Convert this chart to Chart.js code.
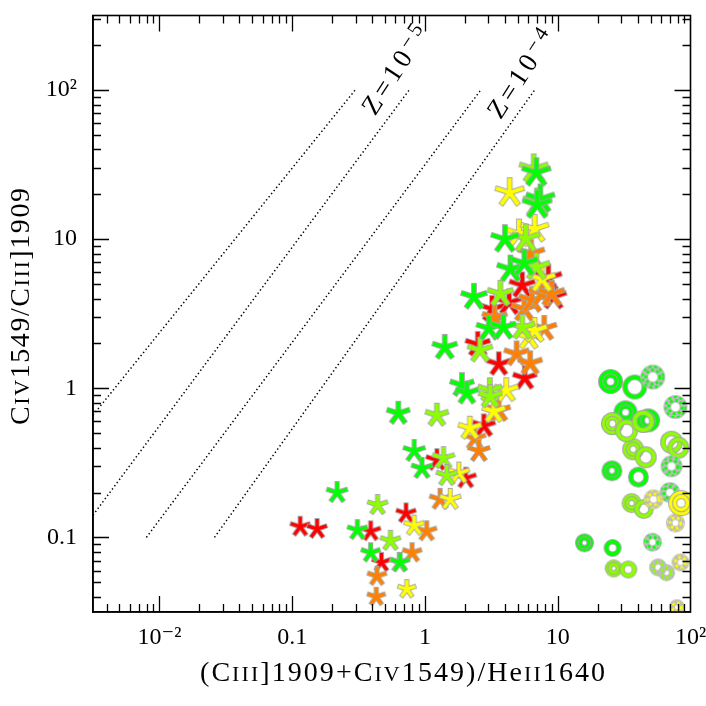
<!DOCTYPE html>
<html><head><meta charset="utf-8">
<script src="https://cdn.jsdelivr.net/npm/chart.js@4.4.1/dist/chart.umd.min.js"></script>
<style>html,body{margin:0;padding:0;background:#fff}canvas{display:block}</style>
</head><body>
<canvas id="c" width="706" height="706"></canvas>
<script>
// ---------------- data ----------------
const xTickValues = [0.01, 0.1, 1, 10, 100];
const xTickLabels = ['10\u207B\u00B2', '0.1', '1', '10', '10\u00B2'];
const yTickValues = [0.1, 1, 10, 100];
const yTickLabels = ['0.1', '1', '10', '10\u00B2'];

const starsRed = [[0.115,0.118],[0.154,0.114],[0.39,0.110],[0.47,0.068],[0.72,0.145],[1.23,0.33],[2.03,0.25],[2.78,0.56],[2.5,1.97],[3.6,1.45],[5.65,1.17],[3.2,3.4],[4.3,3.76],[5.4,4.9],[8.5,5.5],[9.3,4.1]];
const starsOrange = [[0.43,0.040],[0.435,0.055],[0.8,0.079],[1.03,0.11],[1.3,0.18],[2.37,0.46],[2.55,0.38],[3.6,0.71],[4.9,1.7],[6.2,1.47],[7.9,2.52],[3.35,2.98],[5.6,3.4],[6.4,3.9],[7.6,4.3],[9.0,4.3],[6.3,8.0]];
const starsYellow = [[0.73,0.045],[0.83,0.12],[1.55,0.18],[1.8,0.27],[2.18,0.54],[3.3,0.70],[4.1,0.97],[6.05,2.2],[6.7,2.44],[7.6,5.4],[5.1,10.9],[6.7,11.7],[4.35,20.5]];
const starsYellowGreen = [[0.44,0.165],[0.55,0.095],[0.64,0.068],[1.23,0.66],[1.38,0.34],[1.46,0.26],[2.6,1.8],[3.08,0.97],[3.1,0.88],[5.4,2.56],[3.7,4.3],[6.9,6.5],[5.75,10.1],[6.6,29.6],[7.0,17.5]];
const starsGreen = [[0.218,0.20],[0.31,0.112],[0.39,0.079],[0.65,0.068],[0.83,0.38],[0.95,0.29],[0.63,0.68],[1.9,1.05],[2.07,0.93],[1.41,1.88],[2.34,4.1],[3.03,2.52],[3.9,2.56],[4.4,6.3],[5.6,6.9],[4.0,10.0],[6.9,27.9],[7.4,18.6],[7.0,17.0]];

const ringsGreenDouble = [[25,1.11],[32.4,0.69],[48,0.61],[25.6,0.28],[15.9,0.092]];
const ringsGreenSingle = [[38,1.02],[40.5,0.254],[25.9,0.085]];
const ringsGreenDashed = [[52,1.19],[77,0.75],[72,0.30],[51.7,0.093],[70,0.20]];
const ringsYellowGreenDouble = [[25.8,0.58],[37,0.39],[36,0.17],[26.4,0.062]];
const ringsYellowGreenSingle = [[33,0.52],[46,0.345],[44.5,0.155],[34,0.061],[44,0.60],[72,0.435],[81,0.40]];
const ringsYellowGreenDashed = [[57,0.063],[66,0.058]];
const ringsYellowDashed = [[52.6,0.18],[77,0.125],[84,0.068],[79,0.034]];
const ringsYellowThick = [[85,0.17]];

const zLines = [
  [[0.00316,0.66],[0.298,100]],
  [[0.00316,0.141],[0.76,100]],
  [[0.00798,0.1],[2.63,100]],
  [[0.026,0.1],[6.7,100]]
];
const zLabelText = ['Z=10', 'Z=10'];
const zLabelExp = ['\u22125', '\u22124'];
const zLabelAt = [[0.60,136],[5.3,128]];

// ---------------- styling ----------------
const FAM = "'Liberation Serif', 'DejaVu Serif', serif";
const GRAY = '#a6a6a6';
const C_RED = '#ff0000', C_ORANGE = '#ff8000', C_YELLOW = '#ffff00', C_YG = '#8cff00', C_GREEN = '#00ff00';
const cache = {};
const toPts = a => a.map(([x, y]) => ({x, y}));

function starImg(color, r) {
  const key = 's|' + color + '|' + r;
  if (cache[key]) return cache[key];
  const w = r > 11 ? 3.9 : 3.3;
  const size = Math.ceil(2 * (r + 3));
  const cv = document.createElement('canvas'); cv.width = cv.height = size;
  const g = cv.getContext('2d'); const c = size / 2;
  const spokes = (len, lw, col) => {
    g.beginPath();
    for (let i = 0; i < 5; i++) {
      const a = -Math.PI / 2 + i * 2 * Math.PI / 5;
      g.moveTo(c, c); g.lineTo(c + len * Math.cos(a), c + len * Math.sin(a));
    }
    g.lineWidth = lw; g.strokeStyle = col; g.lineCap = 'butt'; g.stroke();
  };
  spokes(r + 0.9, w + 1.8, GRAY);
  spokes(r, w, color);
  cache[key] = cv; return cv;
}

function ringImg(color, R, kind) {
  const key = 'r|' + color + '|' + R + '|' + kind;
  if (cache[key]) return cache[key];
  const w = kind === 'thick' ? 4.8 : 3.6;
  const size = Math.ceil(2 * (R + 3));
  const cv = document.createElement('canvas'); cv.width = cv.height = size;
  const g = cv.getContext('2d'); const c = size / 2;
  const ring = (r, dashed, lw) => {
    g.setLineDash([]);
    g.beginPath(); g.arc(c, c, r, 0, 2 * Math.PI);
    g.lineWidth = lw + 2; g.strokeStyle = dashed ? '#bdbdbd' : GRAY; g.stroke();
    g.setLineDash(dashed ? [2.6, 2.6] : []);
    g.beginPath(); g.arc(c, c, r, 0, 2 * Math.PI);
    g.lineWidth = lw; g.strokeStyle = color; g.stroke();
  };
  const outer = R - w / 2 - 1;
  if (kind === 'single') ring(outer, false, w);
  else if (kind === 'double') { ring(outer, false, w); ring(Math.max(2.4, R * 0.46), false, 2.8); }
  else if (kind === 'dashed') { ring(outer, true, w); ring(R * 0.56, true, 2.8); }
  else if (kind === 'thick') { ring(outer, false, w); ring(R * 0.5, false, 3.4); }
  cache[key] = cv; return cv;
}

const clamp = (v, a, b) => Math.max(a, Math.min(b, v));
const starR = y => Math.round(clamp(11.8 + 2.0 * Math.log10(y), 8.5, 16) * 2) / 2;
const ringR = y => Math.round(clamp(12.4 + 3 * Math.log10(y), 7.5, 13) * 2) / 2;

function starSet(label, arr, color) {
  return {
    label, data: toPts(arr), clip: 0,
    pointRadius: c => c.raw ? starR(c.raw.y) : 10,
    pointStyle: c => starImg(color, c.raw ? starR(c.raw.y) : 10),
    showLine: false
  };
}
function ringSet(label, arr, color, kind, scale) {
  const s = scale || 1;
  return {
    label, data: toPts(arr), clip: 0,
    pointRadius: c => (c.raw ? ringR(c.raw.y) : 10) * s,
    pointStyle: c => ringImg(color, Math.round((c.raw ? ringR(c.raw.y) : 10) * s * 2) / 2, kind),
    showLine: false
  };
}
function lineSet(seg, i) {
  return {
    label: 'Z line ' + (i + 1), type: 'line', data: toPts(seg), clip: 0,
    borderColor: '#000', borderWidth: 1.5, borderDash: [1.4, 2.6], borderCapStyle: 'butt',
    pointRadius: 0, fill: false, tension: 0, showLine: true
  };
}

// painting order: bottom first
const paintOrder = [
  ...zLines.map(lineSet),
  starSet('red', starsRed, C_RED),
  starSet('orange', starsOrange, C_ORANGE),
  starSet('yellow', starsYellow, C_YELLOW),
  starSet('yellow-green', starsYellowGreen, C_YG),
  starSet('green', starsGreen, C_GREEN),
  ringSet('green double', ringsGreenDouble, C_GREEN, 'double'),
  ringSet('green single', ringsGreenSingle, C_GREEN, 'single'),
  ringSet('yellow-green double', ringsYellowGreenDouble, C_YG, 'double'),
  ringSet('yellow-green single', ringsYellowGreenSingle, C_YG, 'single'),
  ringSet('green dashed', ringsGreenDashed, C_GREEN, 'dashed'),
  ringSet('yellow-green dashed', ringsYellowGreenDashed, C_YG, 'dashed'),
  ringSet('yellow dashed', ringsYellowDashed, C_YELLOW, 'dashed'),
  ringSet('yellow thick', ringsYellowThick, C_YELLOW, 'thick', 1.3)
];
const datasets = paintOrder.slice().reverse();

function drawRich(ctx, segs, cx, cy, rot, target) {
  ctx.save();
  ctx.translate(cx, cy); ctx.rotate(rot);
  ctx.fillStyle = '#000'; ctx.textBaseline = 'alphabetic'; ctx.textAlign = 'left';
  const chars = [];
  for (const [t, size, dy] of segs) {
    ctx.font = size + 'px ' + FAM;
    for (const ch of t) chars.push({ch, size, dy: dy || 0, w: ctx.measureText(ch).width});
  }
  const nat = chars.reduce((a, c) => a + c.w, 0);
  const sp = target ? (target - nat) / (chars.length - 1) : 0;
  let x = -(target || nat) / 2;
  for (const c of chars) {
    ctx.font = c.size + 'px ' + FAM;
    ctx.fillText(c.ch, x, c.dy);
    x += c.w + sp;
  }
  ctx.restore();
}

const framePlugin = {
  id: 'frame',
  afterDatasetsDraw(chart) {
    const ctx = chart.ctx, a = chart.chartArea, xs = chart.scales.x, ys = chart.scales.y;
    ctx.save();
    ctx.strokeStyle = '#000';
    ctx.lineWidth = 1.6;
    ctx.strokeRect(a.left, a.top, a.right - a.left, a.bottom - a.top);
    ctx.lineWidth = 1.3;
    ctx.beginPath();
    for (let d = -3; d <= 2; d++) for (let m = 1; m <= 9; m++) {
      const v = m * Math.pow(10, d);
      if (v < xs.min * 1.0001 || v > xs.max * 0.9999) continue;
      const px = Math.round(xs.getPixelForValue(v)) + 0.5, L = m === 1 ? 16 : 8;
      ctx.moveTo(px, a.bottom); ctx.lineTo(px, a.bottom - L);
      ctx.moveTo(px, a.top); ctx.lineTo(px, a.top + L);
    }
    for (let d = -2; d <= 2; d++) for (let m = 1; m <= 9; m++) {
      const v = m * Math.pow(10, d);
      if (v < ys.min * 1.0001 || v > ys.max * 0.9999) continue;
      const py = Math.round(ys.getPixelForValue(v)) + 0.5, L = m === 1 ? 16 : 8;
      ctx.moveTo(a.left, py); ctx.lineTo(a.left + L, py);
      ctx.moveTo(a.right, py); ctx.lineTo(a.right - L, py);
    }
    ctx.stroke();
    ctx.restore();
  },
  afterDraw(chart) {
    const ctx = chart.ctx, xs = chart.scales.x, ys = chart.scales.y;
    drawRich(ctx, [['(C', 28], ['III', 22], [']1909+C', 28], ['IV', 22], ['1549)/He', 28], ['II', 22], ['1640', 28]],
      402.5, 681, 0, 405);
    drawRich(ctx, [['C', 28], ['IV', 22], ['1549/C', 28], ['III', 22], [']1909', 28]],
      28.5, 306.5, -Math.PI / 2, 237);
    const rot = -57 * Math.PI / 180;
    zLabelText.forEach((t, i) => {
      const px = xs.getPixelForValue(zLabelAt[i][0]);
      const py = ys.getPixelForValue(zLabelAt[i][1]);
      drawRich(ctx, [[t, 27], [zLabelExp[i], 21, -7]],
        px - 8 * Math.sin(rot), py + 8 * Math.cos(rot), rot, 100);
    });
  }
};

const tickFont = {family: FAM, size: 24};
new Chart(document.getElementById('c'), {
  type: 'scatter',
  data: {datasets},
  options: {
    responsive: false, animation: false, devicePixelRatio: 1, events: [],
    layout: {padding: {top: 14, right: 14, left: 0, bottom: 0}},
    plugins: {legend: {display: false}, tooltip: {enabled: false}},
    scales: {
      x: {
        type: 'logarithmic', position: 'bottom',
        min: Math.pow(10, -2.5), max: 100,
        grid: {display: false, drawTicks: false},
        border: {display: true, color: '#000', width: 1.6},
        afterBuildTicks: s => { s.ticks = xTickValues.map(v => ({value: v, major: true})); },
        afterFit: s => { s.height = 94; s.paddingLeft = 0; s.paddingRight = 0; },
        ticks: {
          autoSkip: false, maxRotation: 0, minRotation: 0, padding: 11, color: '#000', font: tickFont,
          callback: (v, i) => xTickLabels[i]
        },
        title: {display: false}
      },
      y: {
        type: 'logarithmic', position: 'left',
        min: Math.pow(10, -1.5), max: Math.pow(10, 2.5),
        grid: {display: false, drawTicks: false},
        border: {display: true, color: '#000', width: 1.6},
        afterBuildTicks: s => { s.ticks = yTickValues.map(v => ({value: v, major: true})); },
        afterFit: s => { s.width = 93; s.paddingTop = 0; s.paddingBottom = 0; },
        ticks: {
          autoSkip: false, padding: 16, color: '#000', font: tickFont,
          callback: (v, i) => yTickLabels[i]
        },
        title: {display: false}
      }
    }
  },
  plugins: [framePlugin]
});
</script>
</body></html>
